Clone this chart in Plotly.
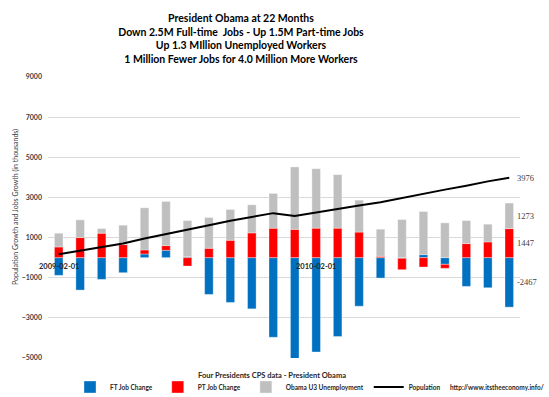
import plotly.graph_objects as go

months = ["2009-02-01", "2009-03-01", "2009-04-01", "2009-05-01", "2009-06-01", "2009-07-01",
          "2009-08-01", "2009-09-01", "2009-10-01", "2009-11-01", "2009-12-01", "2010-01-01",
          "2010-02-01", "2010-03-01", "2010-04-01", "2010-05-01", "2010-06-01", "2010-07-01",
          "2010-08-01", "2010-09-01", "2010-10-01", "2010-11-01"]
ft_change = [-883, -1617, -1083, -750, 183, 367, 50, -1833, -2233, -2550, -3967, -5030,
             -4700, -3930, -2420, -1017, -30, 150, -333, -1433, -1500, -2467]
pt_change = [533, 1000, 1217, 650, 200, 233, -417, 467, 867, 1233, 1467, 1410,
             1470, 1470, 1275, 67, -570, -467, -200, 700, 783, 1447]
u3_unemp = [683, 883, 233, 967, 2100, 2200, 1800, 1533, 1533, 1400, 1733, 3110,
            2960, 2665, 1590, 1350, 1900, 2150, 1733, 1150, 883, 1273]
population = [167, 333, 500, 700, 950, 1183, 1400, 1617, 1833, 2033, 2217, 2080,
              2263, 2430, 2594, 2758, 2976, 3174, 3388, 3586, 3800, 3976]
y_ticks = [-5000, -3000, -1000, 1000, 3000, 5000, 7000, 9000]

BLUE = "#0070C0"
RED = "#FF0000"
GRAY = "#BFBFBF"
FONT = "Lato"

W, H = 549, 397
L, R, T, B = 48, 29, 77, 39
PW, PH = W - L - R, H - T - B


def px_x(x):
    return (x - L) / PW


def px_y(y):
    return (H - B - y) / PH


fig = go.Figure()
bar_line = dict(color="rgba(255,255,255,0.7)", width=0.5)
fig.add_trace(go.Bar(x=months, y=ft_change, name="FT Job Change",
                     marker=dict(color=BLUE, line=bar_line)))
fig.add_trace(go.Bar(x=months, y=pt_change, name="PT Job Change",
                     marker=dict(color=RED, line=bar_line)))
fig.add_trace(go.Bar(x=months, y=u3_unemp, name="Obama U3 Unemployment",
                     marker=dict(color=GRAY, line=bar_line)))
fig.add_trace(go.Scatter(x=months, y=population, mode="lines", name="Population",
                         line=dict(color="black", width=2)))

annotations = []
# category labels shown every 12 months, sitting just under the zero line
for i in range(0, len(months), 12):
    annotations.append(dict(x=months[i], y=0, xref="x", yref="y", text=months[i],
                            showarrow=False, yanchor="top", yshift=-2,
                            font=dict(family=FONT, size=7.5, color="#262626", weight="bold")))
# end-of-series data labels
last = months[-1]
label_font = dict(family="Liberation Serif", size=8.5, color="#404040")
ends = [
    (population[-1], population[-1]),
    (pt_change[-1] + u3_unemp[-1] / 2, u3_unemp[-1]),
    (pt_change[-1] / 2, pt_change[-1]),
    (ft_change[-1] / 2, ft_change[-1]),
]
for yv, val in ends:
    annotations.append(dict(x=last, y=yv, xref="x", yref="y", text=str(val),
                            showarrow=False, xanchor="left", xshift=6, font=label_font))
# y axis title
annotations.append(dict(x=px_x(15), y=px_y(207), xref="paper", yref="paper",
                        text="Population Growth and Jobs Growth (in thousands)",
                        textangle=-90, showarrow=False, xanchor="center", yanchor="middle",
                        font=dict(family=FONT, size=7, color="#404040")))
# x axis title
annotations.append(dict(x=px_x(272), y=px_y(375), xref="paper", yref="paper",
                        text="Four Presidents CPS data - President Obama",
                        showarrow=False, yanchor="middle", xanchor="center",
                        font=dict(family=FONT, size=7.5, color="#262626", weight="bold")))
# url next to the legend
annotations.append(dict(x=px_x(448), y=px_y(387), xref="paper", yref="paper",
                        text="http://www.itstheeconomy.info/",
                        showarrow=False, yanchor="middle", xanchor="left",
                        font=dict(family=FONT, size=6.5, color="#262626", weight="bold")))

fig.update_layout(
    width=W, height=H,
    margin=dict(l=L, r=R, t=T, b=B, autoexpand=False),
    paper_bgcolor="white", plot_bgcolor="white",
    barmode="relative", bargap=0.6,
    title=dict(text="President Obama at 22 Months<br>Down 2.5M Full-time  Jobs - Up 1.5M Part-time Jobs"
                    "<br>Up 1.3 MIllion Unemployed Workers<br>1 Million Fewer Jobs for 4.0 Million More Workers",
               x=241 / W, xanchor="center", xref="container",
               y=1 - 22 / 397, yanchor="top", yref="container",
               font=dict(family=FONT, size=10.5, color="black", weight="bold")),
    xaxis=dict(type="category", range=[-0.5, len(months) - 0.5], autorange=False,
               showticklabels=False, showgrid=False, zeroline=False,
               showline=False, ticks=""),
    yaxis=dict(range=[-5000, 9000], autorange=False, tickvals=y_ticks, showgrid=True,
               gridcolor="#D9D9D9", gridwidth=1, zeroline=False, showline=False, ticks="",
               ticklabelstandoff=5,
               tickfont=dict(family=FONT, size=7, color="#404040", weight="bold")),
    legend=dict(orientation="h", xref="container", yref="container",
                x=446 / W, xanchor="right", y=1 - 387 / H, yanchor="middle",
                font=dict(family=FONT, size=6.5, color="#262626", weight="bold"),
                bgcolor="rgba(0,0,0,0)", tracegroupgap=0),
    annotations=annotations,
    showlegend=True,
)

fig.write_html("out.html", config={"displayModeBar": False},
               post_script="document.body.style.margin='0';")
